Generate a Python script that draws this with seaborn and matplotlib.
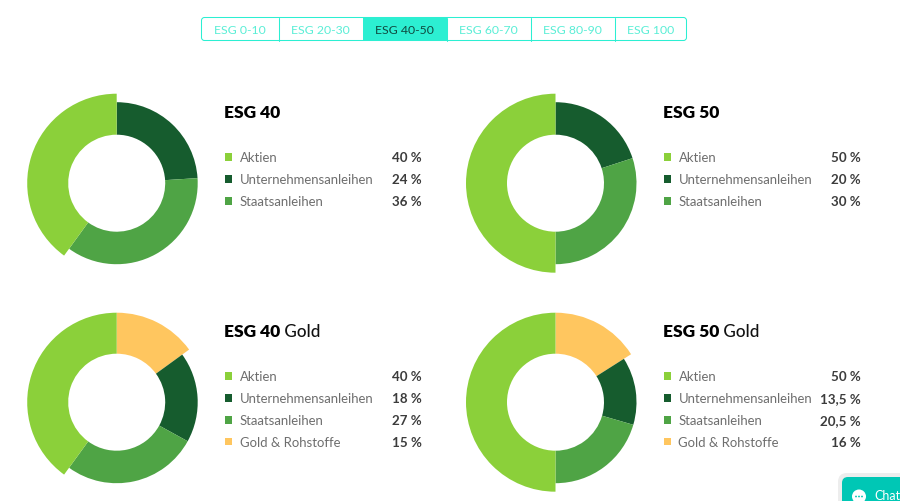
import matplotlib
matplotlib.use("Agg")
from matplotlib import pyplot as plt
from matplotlib.patches import FancyBboxPatch, Rectangle, Circle
import seaborn as sns

tabs = ['ESG 0-10', 'ESG 20-30', 'ESG 40-50', 'ESG 60-70', 'ESG 80-90', 'ESG 100']
active_tab = 'ESG 40-50'
tab_edges = [201.5, 278.5, 362.5, 447, 530.5, 614.5, 686.5]

titles = ['ESG 40', 'ESG 50', 'ESG 40', 'ESG 50']
title_suffix = ['', '', 'Gold', 'Gold']

labels = ['Aktien', 'Unternehmensanleihen', 'Staatsanleihen', 'Gold & Rohstoffe']
colors = ['#8bd03a', '#165c2e', '#4fa445', '#ffc65f']
esg40 = [40, 24, 36]
esg50 = [50, 20, 30]
esg40_gold = [40, 18, 27, 15]
esg50_gold = [50, 13.5, 20.5, 16]
all_values = [esg40, esg50, esg40_gold, esg50_gold]

centers = [(116.7, 184.2), (555.5, 184.2), (116.7, 403.2), (555.5, 403.2)]
text_x = [224, 663, 224, 663]
value_x = [422, 860.5, 422, 861]
title_y = [111.7, 111.7, 330.7, 330.7]
row_y = [158, 158, 377, 377]

R_SMALL = 81
R_BIG = 89.5
R_HOLE = 48.5
W, H = 900, 502
TAB_COLOR = '#2cefd2'

sns.set_style("white")
plt.rcParams['font.family'] = ['Lato', 'DejaVu Sans']

fig = plt.figure(figsize=(W / 100, H / 100), dpi=100)
ax = fig.add_axes([0, 0, 1, 1])
ax.set_xlim(0, W)
ax.set_ylim(H, 0)
ax.axis('off')

# tab bar
x0, x1 = tab_edges[0], tab_edges[-1]
for i, tab in enumerate(tabs):
    left, right = tab_edges[i], tab_edges[i + 1]
    is_active = tab == active_tab
    if is_active:
        ax.add_patch(Rectangle((left, 18.5), right - left, 23, fc=TAB_COLOR, ec='none'))
    elif i > 0:
        ax.plot([left, left], [18.5, 41.5], color=TAB_COLOR, lw=0.75)
    ax.text((left + right) / 2, 30, tab, ha='center', va='center', fontsize=8.8,
            color='#0f4a40' if is_active else '#5aeed6')
ax.add_patch(FancyBboxPatch((x0 + 2, 20.5), x1 - x0 - 4, 19, boxstyle='round,pad=2,rounding_size=3',
                            fc='none', ec=TAB_COLOR, lw=0.75))

# donuts and their legends
for n, values in enumerate(all_values):
    cx, cy = centers[n]
    pie_ax = fig.add_axes([(cx - 95) / W, 1 - (cy + 95) / H, 190 / W, 190 / H])
    order = [3, 1, 2, 0] if len(values) == 4 else [1, 2, 0]
    wedges, _ = pie_ax.pie([values[i] for i in order], colors=[colors[i] for i in order],
                           radius=R_SMALL, startangle=90, counterclock=False,
                           wedgeprops={'width': R_SMALL - R_HOLE, 'linewidth': 0})
    for wedge, i in zip(wedges, order):
        if i in (0, 3):
            wedge.set_radius(R_BIG)
            wedge.set_width(R_BIG - R_HOLE)
    pie_ax.set_xlim(-95, 95)
    pie_ax.set_ylim(-95, 95)

    head = ax.text(text_x[n], title_y[n], titles[n], fontsize=12.5, fontweight='heavy',
                   color='black', va='center_baseline')
    if title_suffix[n]:
        ax.annotate(' ' + title_suffix[n], xy=(1, 0), xycoords=head, va='bottom', fontsize=12.3,
                    fontweight='medium', color='#111111')

    for i, value in enumerate(values):
        y = row_y[n] + i * 21.9
        ax.add_patch(Rectangle((text_x[n] + 1, y - 3.7), 7.4, 7.4, fc=colors[i], ec='none'))
        ax.text(text_x[n] + 15.5, y, labels[i], fontsize=9.45, color='#6e6e6e', va='center',
                fontweight='normal')
        ax.text(value_x[n], y, f'{value:g}'.replace('.', ',') + ' %', fontsize=9.6, color='#3c3c3c',
                ha='right', va='center', fontweight='bold')

# chat button, cut off by the page edge
ax.add_patch(FancyBboxPatch((838, 474), 90, 40, boxstyle='round,pad=0,rounding_size=9',
                            fc='#ededed', ec='none', clip_on=True))
ax.add_patch(FancyBboxPatch((842, 478), 80, 40, boxstyle='round,pad=0,rounding_size=6',
                            fc='#00c7b5', ec='none', clip_on=True))
ax.add_patch(Circle((859, 497.5), 7, fc='white', ec='none'))
for dx in (-3, 0, 3):
    ax.add_patch(Circle((859 + dx, 497.5), 0.9, fc='#00c7b5', ec='none'))
ax.text(874, 496, 'Chat', fontsize=9, color='white', va='center')

fig.savefig('out.png', dpi=100)
